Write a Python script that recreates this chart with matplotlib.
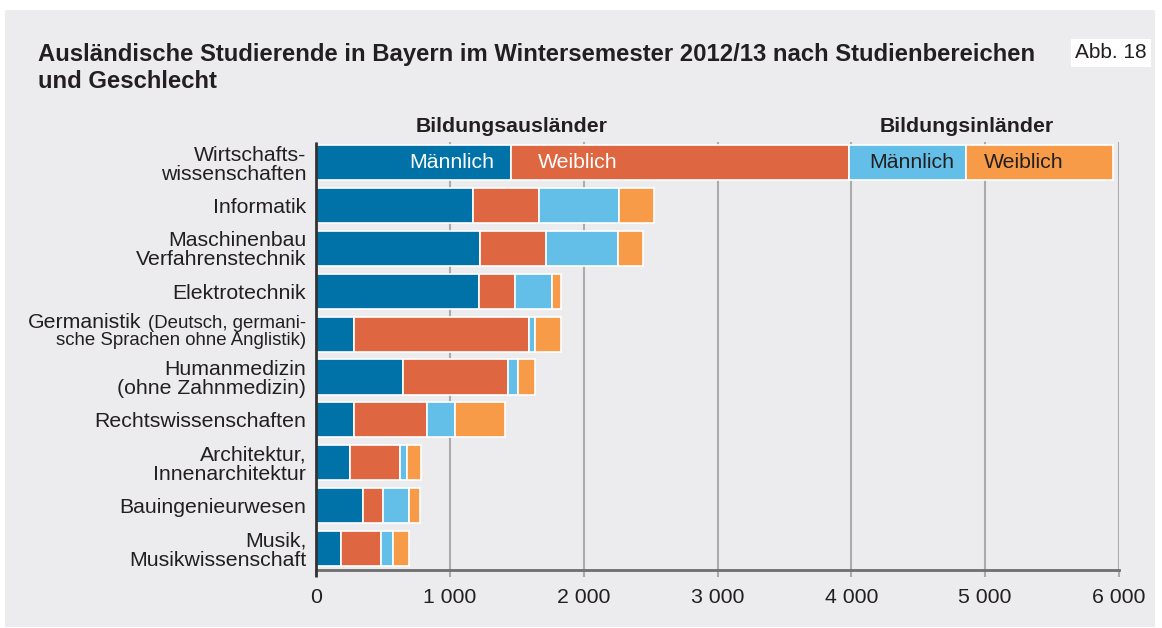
import matplotlib
matplotlib.use("Agg")
import matplotlib.pyplot as plt
import numpy as np
from matplotlib.patches import Rectangle
from matplotlib.offsetbox import TextArea, HPacker, VPacker, AnnotationBbox

plt.rcParams['font.family'] = ['Liberation Sans', 'DejaVu Sans']

# ---------------- data ----------------
categories = [
    "Wirtschafts-\nwissenschaften",
    "Informatik",
    "Maschinenbau\nVerfahrenstechnik",
    "Elektrotechnik",
    "Germanistik (Deutsch, germani-\nsche Sprachen ohne Anglistik)",
    "Humanmedizin\n(ohne Zahnmedizin)",
    "Rechtswissenschaften",
    "Architektur,\nInnenarchitektur",
    "Bauingenieurwesen",
    "Musik,\nMusikwissenschaft",
]
aus_maennlich = [1458, 1175, 1228, 1215, 284, 647, 287, 252, 351, 190]
aus_weiblich  = [2521, 493, 490, 271, 1305, 790, 545, 378, 152, 298]
in_maennlich  = [881, 593, 537, 277, 47, 69, 209, 50, 195, 87]
in_weiblich   = [1096, 261, 192, 67, 191, 127, 371, 102, 79, 120]
series_names = ["Männlich", "Weiblich", "Männlich", "Weiblich"]
group_names = ["Bildungsausländer", "Bildungsinländer"]
x_ticks = [0, 1000, 2000, 3000, 4000, 5000, 6000]
x_ticklabels = ["0", "1 000", "2 000", "3 000", "4 000", "5 000", "6 000"]
title = "Ausländische Studierende in Bayern im Wintersemester 2012/13 nach Studienbereichen\nund Geschlecht"
fig_label = "Abb. 18"

# ---------------- style ----------------
colors = ["#0072A8", "#DE6640", "#63BFE7", "#F79B49"]
label_colors = ["white", "white", "#231F20", "#231F20"]
panel_bg = "#ECECEE"
text_col = "#231F20"
grid_col = "#ABABAB"
fs = 15.3
fs_small = 13.4

W, H = 1162, 628
fig = plt.figure(figsize=(W / 100, H / 100), dpi=100, facecolor="white")
fig.patches.append(Rectangle((5 / W, 1 - 627 / H), 1150 / W, 617 / H,
                             transform=fig.transFigure, facecolor=panel_bg,
                             edgecolor="none", zorder=-10))

ax = fig.add_axes([316 / W, 1 - 570 / H, (1119 - 316) / W, (570 - 142) / H])
ax.set_facecolor("none")

y = np.arange(len(categories))
series = [aus_maennlich, aus_weiblich, in_maennlich, in_weiblich]
left = np.zeros(len(categories))
bars = []
for vals, c in zip(series, colors):
    b = ax.barh(y, vals, left=left, height=0.82, color=c, edgecolor="white",
                linewidth=1.2, zorder=3)
    bars.append(b)
    left = left + np.array(vals)

ax.set_xlim(0, 6000)
ax.set_ylim(9.5, -0.48)

# grid and ticks
ax.set_xticks(x_ticks)
ax.set_xticklabels(x_ticklabels, fontsize=fs, color=text_col)
ax.xaxis.grid(True, color=grid_col, linewidth=1.5, zorder=0)
ax.set_axisbelow(True)
ax.tick_params(axis="x", length=5, width=1.5, color=grid_col, pad=8)
ax.set_yticks(y)
ylabels = [c if " (" not in c.split("\n")[0] else "" for c in categories]
ax.set_yticklabels(ylabels, fontsize=fs, color=text_col, linespacing=1.0)
ax.tick_params(axis="y", length=0, pad=7)

for s in ["top", "right", "left"]:
    ax.spines[s].set_visible(False)
ax.spines["bottom"].set_color("#6E6E6E")
ax.spines["bottom"].set_linewidth(2)
ax.spines["bottom"].set_zorder(4)
ax.plot([0, 0], [-7 / 428, 1], transform=ax.transAxes, color="#333333",
        linewidth=2, clip_on=False, zorder=5, solid_capstyle="butt")

# mixed-size label (Germanistik)
for i, c in enumerate(categories):
    first, second = c.split("\n") if "\n" in c else (c, "")
    if " (" in first:
        main, paren = first.split(" (", 1)
        ta_main = TextArea(main, textprops=dict(fontsize=fs, color=text_col))
        ta_par = TextArea("(" + paren, textprops=dict(fontsize=fs_small, color=text_col))
        line1 = HPacker(children=[ta_main, ta_par], align="baseline", pad=0, sep=5)
        ta2 = TextArea(second, textprops=dict(fontsize=fs_small, color=text_col))
        vp = VPacker(children=[line1, ta2], align="right", pad=0, sep=0)
        ab = AnnotationBbox(vp, (0, i), xycoords=ax.get_yaxis_transform(),
                            box_alignment=(1, 0.5), frameon=False,
                            xybox=(-10, 3), boxcoords="offset pixels",
                            annotation_clip=False)
        ax.add_artist(ab)

# in-bar labels on the first row
b0 = [b[0] for b in bars]
x0, w0 = b0[0].get_x(), b0[0].get_width()
ax.annotate(series_names[0], (x0 + w0, 0), xytext=(-17, 0), textcoords="offset pixels",
            ha="right", va="center", fontsize=fs, color=label_colors[0], zorder=6)
for k in (1, 2, 3):
    pad = {1: 27, 2: 21, 3: 17}[k]
    ax.annotate(series_names[k], (b0[k].get_x(), 0), xytext=(pad, 0),
                textcoords="offset pixels", ha="left", va="center",
                fontsize=fs, color=label_colors[k], zorder=6)

# group headers, centered on the male/female boundary of the first row
ax.text(b0[1].get_x(), 1.037, group_names[0], transform=ax.get_xaxis_transform(),
        ha="center", va="center", fontsize=fs, fontweight="bold", color=text_col)
ax.text(b0[3].get_x(), 1.037, group_names[1], transform=ax.get_xaxis_transform(),
        ha="center", va="center", fontsize=fs, fontweight="bold", color=text_col)

# title and figure label
fig.text(38 / W, 1 - 43 / H, title, ha="left", va="top", fontsize=17.2,
         fontweight="bold", color=text_col, linespacing=1.25)
fig.text(1075 / W, 1 - 53 / H, fig_label, ha="left", va="center", fontsize=15,
         color=text_col,
         bbox=dict(facecolor="white", edgecolor="none", boxstyle="square,pad=0.2"))

fig.savefig("out.png", dpi=100, facecolor="white")
